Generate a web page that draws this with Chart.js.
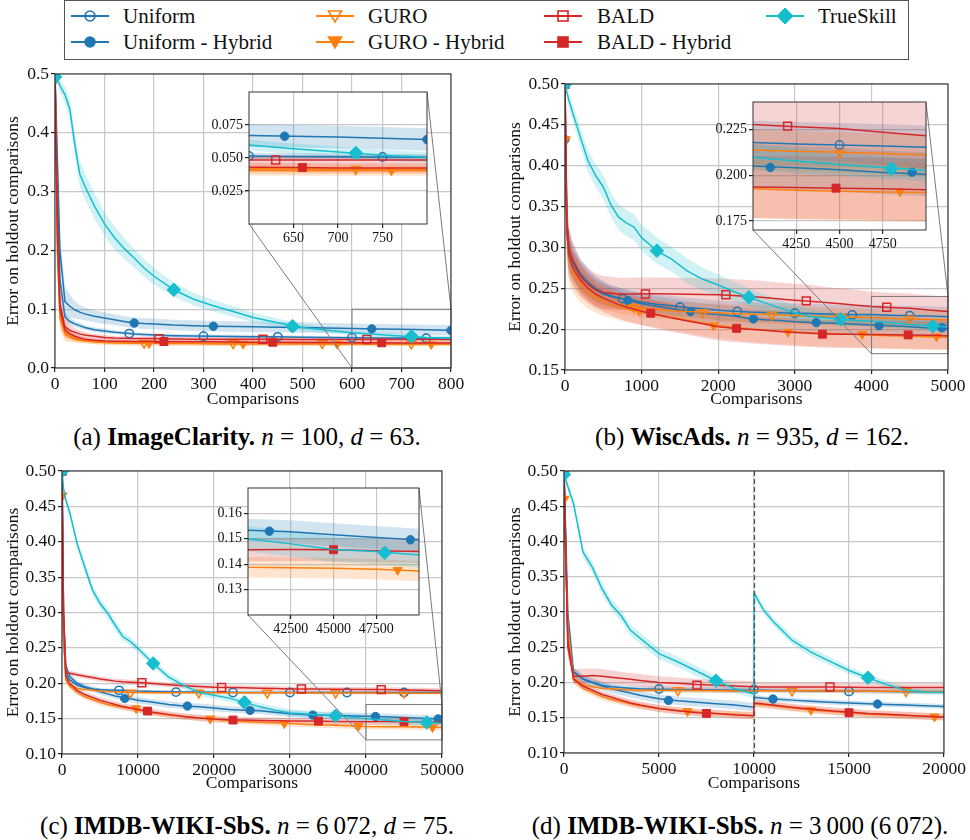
<!DOCTYPE html>
<html>
<head>
<meta charset="utf-8">
<title>Error on holdout comparisons</title>
<script src="https://cdn.jsdelivr.net/npm/chart.js@4.4.1/dist/chart.umd.min.js"></script>
<style>
  html, body { margin: 0; padding: 0; background: #fff; }
  body { position: relative; width: 970px; height: 840px; overflow: hidden; }
  canvas { position: absolute; }
  #legend { position: absolute; left: 64px; top: 0; width: 845px; height: 60px; box-sizing: border-box; border: 1.3px solid #555; }
  .item { position: absolute; font-family: 'Liberation Serif', 'DejaVu Serif', serif; font-size: 21px; color: #111; white-space: nowrap; line-height: 20px; }
  .sw { position: absolute; }
  .cap { position: absolute; font-family: 'Liberation Serif', 'Times New Roman', serif; font-size: 25px; color: #000; white-space: nowrap; transform: translateX(-50%); line-height: 28px; }
</style>
</head>
<body>
<div id="legend"></div>
<div class="cap" style="left:247px;top:423px">(a) <b>ImageClarity.</b> <i>n</i> = 100, <i>d</i> = 63.</div>
<div class="cap" style="left:752px;top:423px">(b) <b>WiscAds.</b> <i>n</i> = 935, <i>d</i> = 162.</div>
<div class="cap" style="left:247px;top:812px">(c) <b>IMDB-WIKI-SbS.</b> <i>n</i> = 6&thinsp;072, <i>d</i> = 75.</div>
<div class="cap" style="left:740px;top:812px">(d) <b>IMDB-WIKI-SbS.</b> <i>n</i> = 3&thinsp;000 (6&thinsp;072).</div>
<script>
// ---- series names (legend order) ----
const SERIES_NAMES = ['Uniform', 'Uniform - Hybrid', 'GURO', 'GURO - Hybrid', 'BALD', 'BALD - Hybrid', 'TrueSkill'];

// ---- (a) ImageClarity ----
const A_X = [0, 5, 10, 20, 30, 40, 50, 60, 80, 100, 120, 140, 160, 180, 200, 240, 280, 320, 360, 400, 450, 500, 550, 600, 650, 700, 750, 800];
const A_UNI = [0.5, 0.3, 0.15, 0.087, 0.079, 0.075, 0.072, 0.069, 0.065, 0.063, 0.061, 0.0595, 0.058, 0.057, 0.056, 0.055, 0.0545, 0.054, 0.0535, 0.053, 0.053, 0.0525, 0.052, 0.0515, 0.0512, 0.051, 0.0508, 0.0505];
const A_UNI_SD = [0, 0.02, 0.015, 0.008, 0.006, 0.005, 0.005, 0.004, 0.004, 0.004, 0.003, 0.003, 0.003, 0.003, 0.003, 0.003, 0.003, 0.003, 0.003, 0.003, 0.0025, 0.0025, 0.0025, 0.0025, 0.0025, 0.0025, 0.0025, 0.0025];
const A_UH = [0.5, 0.35, 0.2, 0.113, 0.105, 0.099, 0.095, 0.092, 0.088, 0.085, 0.082, 0.079, 0.0765, 0.0755, 0.075, 0.073, 0.072, 0.071, 0.0705, 0.07, 0.0695, 0.069, 0.068, 0.067, 0.0665, 0.066, 0.065, 0.064];
const A_UH_SD = [0, 0.02, 0.025, 0.025, 0.02, 0.015, 0.012, 0.011, 0.01, 0.01, 0.009, 0.009, 0.009, 0.009, 0.009, 0.009, 0.009, 0.009, 0.009, 0.009, 0.009, 0.009, 0.0085, 0.0085, 0.0085, 0.0085, 0.0085, 0.0085];
const A_GURO = [0.49, 0.2, 0.09, 0.062, 0.055, 0.051, 0.048, 0.047, 0.045, 0.044, 0.0435, 0.043, 0.043, 0.0425, 0.0425, 0.042, 0.042, 0.042, 0.042, 0.042, 0.042, 0.042, 0.0418, 0.0418, 0.0416, 0.0415, 0.0415, 0.0415];
const A_GURO_SD = [0, 0.03, 0.02, 0.012, 0.008, 0.006, 0.005, 0.004, 0.004, 0.004, 0.0035, 0.0035, 0.0035, 0.0035, 0.0035, 0.0035, 0.0035, 0.0035, 0.0035, 0.0035, 0.0035, 0.0035, 0.0035, 0.0035, 0.0035, 0.0035, 0.0035, 0.0035];
const A_GH = [0.49, 0.2, 0.085, 0.058, 0.052, 0.049, 0.047, 0.046, 0.0445, 0.0435, 0.043, 0.0425, 0.042, 0.042, 0.042, 0.0415, 0.0415, 0.041, 0.041, 0.041, 0.041, 0.041, 0.041, 0.0408, 0.0406, 0.0405, 0.0405, 0.0405];
const A_GH_SD = [0, 0.03, 0.02, 0.012, 0.008, 0.006, 0.005, 0.0045, 0.004, 0.004, 0.004, 0.004, 0.004, 0.004, 0.004, 0.004, 0.004, 0.004, 0.004, 0.004, 0.004, 0.004, 0.004, 0.004, 0.004, 0.004, 0.004, 0.004];
const A_BALD = [0.5, 0.25, 0.11, 0.07, 0.064, 0.061, 0.058, 0.056, 0.054, 0.052, 0.051, 0.0505, 0.05, 0.05, 0.05, 0.0495, 0.049, 0.049, 0.049, 0.0488, 0.0488, 0.0486, 0.0486, 0.0485, 0.0485, 0.0485, 0.0485, 0.0485];
const A_BALD_SD = [0, 0.03, 0.025, 0.015, 0.01, 0.007, 0.006, 0.005, 0.004, 0.004, 0.0035, 0.0035, 0.0035, 0.0035, 0.0035, 0.0035, 0.0035, 0.0035, 0.0035, 0.0035, 0.0035, 0.0035, 0.0035, 0.0035, 0.0035, 0.0035, 0.0035, 0.0035];
const A_BH = [0.5, 0.22, 0.1, 0.065, 0.058, 0.054, 0.051, 0.049, 0.047, 0.046, 0.0455, 0.0455, 0.045, 0.045, 0.045, 0.0448, 0.0445, 0.0445, 0.0442, 0.044, 0.0438, 0.0435, 0.0432, 0.043, 0.0428, 0.0425, 0.0425, 0.0425];
const A_BH_SD = [0, 0.03, 0.02, 0.012, 0.008, 0.006, 0.005, 0.004, 0.004, 0.004, 0.0035, 0.0035, 0.0035, 0.0035, 0.0035, 0.0035, 0.0035, 0.0035, 0.0035, 0.0035, 0.0035, 0.0035, 0.0035, 0.0035, 0.0035, 0.0035, 0.0035, 0.0035];
const A_TS = [0.495, 0.49, 0.48, 0.465, 0.44, 0.38, 0.33, 0.31, 0.275, 0.245, 0.222, 0.203, 0.187, 0.17, 0.156, 0.133, 0.117, 0.106, 0.096, 0.086, 0.077, 0.069, 0.064, 0.0598, 0.057, 0.0545, 0.052, 0.0505];
const A_TS_SD = [0.003, 0.006, 0.01, 0.014, 0.018, 0.02, 0.022, 0.022, 0.022, 0.02, 0.02, 0.018, 0.016, 0.015, 0.014, 0.012, 0.011, 0.01, 0.009, 0.008, 0.007, 0.006, 0.005, 0.004, 0.004, 0.004, 0.004, 0.004];
const A_UNI_MX = [0, 150, 300, 450, 600, 750],  A_UNI_MY = [0.5, 0.0585, 0.054, 0.053, 0.0515, 0.0508];
const A_UH_MX = [0, 160, 320, 480, 640, 800],   A_UH_MY = [0.5, 0.0765, 0.071, 0.069, 0.0665, 0.064];
const A_GURO_MX = [0, 180, 360, 540, 720],      A_GURO_MY = [0.49, 0.0425, 0.042, 0.042, 0.0415];
const A_GH_MX = [0, 190, 380, 570, 760],        A_GH_MY = [0.49, 0.042, 0.041, 0.041, 0.0405];
const A_BALD_MX = [0, 210, 420, 630],           A_BALD_MY = [0.5, 0.05, 0.0488, 0.0485];
const A_BH_MX = [0, 220, 440, 660],             A_BH_MY = [0.5, 0.045, 0.0438, 0.0428];
const A_TS_MX = [0, 240, 480, 720],             A_TS_MY = [0.495, 0.133, 0.071, 0.0538];
const A_XTICKS = ['0', '100', '200', '300', '400', '500', '600', '700', '800'];
const A_YTICKS = ['0.0', '0.1', '0.2', '0.3', '0.4', '0.5'];
const A_ZOOM = [600, 800, 0, 0.1];
const A_IXTICKS = ['650', '700', '750'];
const A_IYTICKS = ['0.025', '0.050', '0.075'];

// ---- (b) WiscAds ----
const B_X = [0, 25, 50, 100, 200, 300, 400, 500, 600, 700, 800, 900, 1000, 1200, 1400, 1600, 1800, 2000, 2200, 2400, 2600, 2800, 3000, 3200, 3400, 3600, 3800, 4000, 4250, 4500, 4750, 5000];
const B_UNI = [0.5, 0.33, 0.3, 0.285, 0.268, 0.258, 0.25, 0.245, 0.241, 0.238, 0.2365, 0.235, 0.233, 0.2305, 0.2285, 0.2265, 0.225, 0.223, 0.222, 0.221, 0.2205, 0.22, 0.2195, 0.219, 0.2185, 0.218, 0.2178, 0.2178, 0.217, 0.2165, 0.216, 0.2152];
const B_UNI_SD = [0, 0.03, 0.025, 0.02, 0.018, 0.016, 0.015, 0.014, 0.013, 0.013, 0.012, 0.012, 0.012, 0.012, 0.012, 0.012, 0.012, 0.012, 0.012, 0.012, 0.012, 0.012, 0.012, 0.012, 0.012, 0.012, 0.012, 0.012, 0.012, 0.012, 0.012, 0.012];
const B_UH = [0.432, 0.33, 0.295, 0.28, 0.265, 0.255, 0.248, 0.243, 0.24, 0.238, 0.236, 0.2335, 0.231, 0.228, 0.225, 0.222, 0.2195, 0.218, 0.216, 0.213, 0.2115, 0.2105, 0.209, 0.208, 0.2075, 0.207, 0.206, 0.205, 0.204, 0.203, 0.2015, 0.2005];
const B_UH_SD = [0, 0.03, 0.025, 0.02, 0.018, 0.016, 0.015, 0.014, 0.013, 0.013, 0.012, 0.012, 0.012, 0.012, 0.012, 0.012, 0.012, 0.012, 0.012, 0.012, 0.012, 0.012, 0.012, 0.012, 0.012, 0.012, 0.012, 0.012, 0.012, 0.012, 0.012, 0.012];
const B_GURO = [0.432, 0.32, 0.29, 0.275, 0.26, 0.25, 0.242, 0.237, 0.234, 0.231, 0.2285, 0.227, 0.2255, 0.224, 0.2225, 0.2215, 0.2207, 0.22, 0.2192, 0.2185, 0.218, 0.2172, 0.2165, 0.216, 0.2155, 0.215, 0.2145, 0.2138, 0.213, 0.2125, 0.2118, 0.2111];
const B_GURO_SD = [0, 0.03, 0.025, 0.02, 0.018, 0.016, 0.014, 0.013, 0.012, 0.012, 0.011, 0.011, 0.011, 0.011, 0.011, 0.011, 0.011, 0.011, 0.011, 0.011, 0.011, 0.011, 0.011, 0.011, 0.011, 0.011, 0.011, 0.011, 0.011, 0.011, 0.011, 0.011];
const B_GH = [0.432, 0.315, 0.285, 0.27, 0.255, 0.245, 0.238, 0.233, 0.23, 0.227, 0.2245, 0.2225, 0.221, 0.218, 0.2145, 0.211, 0.2075, 0.2045, 0.2025, 0.2005, 0.199, 0.1975, 0.1965, 0.1955, 0.1948, 0.194, 0.1935, 0.1925, 0.1918, 0.1912, 0.1908, 0.1905];
const B_GH_SD = [0, 0.03, 0.028, 0.025, 0.022, 0.02, 0.018, 0.017, 0.016, 0.016, 0.016, 0.016, 0.016, 0.016, 0.016, 0.016, 0.016, 0.016, 0.016, 0.016, 0.016, 0.016, 0.016, 0.016, 0.016, 0.016, 0.016, 0.016, 0.016, 0.016, 0.016, 0.016];
const B_BALD = [0.5, 0.33, 0.3, 0.285, 0.265, 0.255, 0.248, 0.245, 0.244, 0.243, 0.243, 0.243, 0.2432, 0.2432, 0.243, 0.2428, 0.2425, 0.242, 0.2412, 0.24, 0.2388, 0.237, 0.2355, 0.2342, 0.2325, 0.231, 0.2292, 0.2277, 0.2265, 0.2255, 0.2235, 0.2215];
const B_BALD_SD = [0, 0.03, 0.025, 0.022, 0.02, 0.02, 0.02, 0.02, 0.02, 0.02, 0.02, 0.02, 0.02, 0.02, 0.02, 0.02, 0.02, 0.02, 0.02, 0.02, 0.02, 0.02, 0.02, 0.02, 0.019, 0.019, 0.019, 0.018, 0.018, 0.018, 0.018, 0.018];
const B_BH = [0.5, 0.32, 0.29, 0.275, 0.26, 0.25, 0.243, 0.238, 0.234, 0.23, 0.227, 0.2245, 0.222, 0.2175, 0.2135, 0.21, 0.2065, 0.203, 0.2012, 0.1998, 0.1985, 0.1972, 0.196, 0.195, 0.1942, 0.1938, 0.1938, 0.1935, 0.1932, 0.1929, 0.1925, 0.192];
const B_BH_SD = [0, 0.03, 0.025, 0.022, 0.02, 0.018, 0.017, 0.017, 0.017, 0.017, 0.017, 0.017, 0.017, 0.017, 0.017, 0.017, 0.017, 0.017, 0.017, 0.017, 0.017, 0.017, 0.017, 0.017, 0.017, 0.017, 0.017, 0.017, 0.017, 0.017, 0.017, 0.017];
const B_TS = [0.5, 0.49, 0.48, 0.465, 0.435, 0.406, 0.388, 0.374, 0.352, 0.337, 0.33, 0.325, 0.312, 0.296, 0.285, 0.271, 0.261, 0.254, 0.246, 0.239, 0.2325, 0.226, 0.22, 0.2155, 0.214, 0.212, 0.2105, 0.2098, 0.2078, 0.2058, 0.2042, 0.2025];
const B_TS_SD = [0.003, 0.006, 0.008, 0.01, 0.012, 0.013, 0.014, 0.015, 0.015, 0.016, 0.016, 0.016, 0.016, 0.016, 0.015, 0.015, 0.014, 0.013, 0.012, 0.011, 0.01, 0.01, 0.009, 0.009, 0.008, 0.008, 0.007, 0.007, 0.007, 0.006, 0.006, 0.006];
const B_UNI_MX = [0, 750, 1500, 2250, 3000, 3750, 4500],  B_UNI_MY = [0.5, 0.2374, 0.2268, 0.2215, 0.2195, 0.2174, 0.2165];
const B_UH_MX = [0, 820, 1640, 2460, 3280, 4100, 4920],   B_UH_MY = [0.432, 0.235, 0.2215, 0.2125, 0.208, 0.2042, 0.2016];
const B_GURO_MX = [0, 900, 1800, 2700, 3600, 4500],       B_GURO_MY = [0.432, 0.2268, 0.2207, 0.2175, 0.215, 0.2122];
const B_GH_MX = [0, 970, 1940, 2910, 3880, 4850],         B_GH_MY = [0.432, 0.2224, 0.2044, 0.1966, 0.1938, 0.191];
const B_BALD_MX = [0, 1050, 2100, 3150, 4200],            B_BALD_MY = [0.5, 0.243, 0.242, 0.2346, 0.2268];
const B_BH_MX = [0, 1120, 2240, 3360, 4480],              B_BH_MY = [0.5, 0.2195, 0.201, 0.1938, 0.1929];
const B_TS_MX = [0, 1200, 2400, 3600, 4800],              B_TS_MY = [0.5, 0.296, 0.239, 0.212, 0.2036];
const B_XTICKS = ['0', '1000', '2000', '3000', '4000', '5000'];
const B_YTICKS = ['0.15', '0.20', '0.25', '0.30', '0.35', '0.40', '0.45', '0.50'];
const B_ZOOM = [4000, 5000, 0.17, 0.24];
const B_IXTICKS = ['4250', '4500', '4750'];
const B_IYTICKS = ['0.175', '0.200', '0.225'];

// ---- (c) IMDB-WIKI-SbS, n = 6072 ----
const C_X = [0, 200, 500, 1000, 2000, 3000, 4000, 5000, 6000, 7000, 8000, 9000, 10000, 12000, 14000, 16000, 18000, 20000, 22000, 24000, 26000, 28000, 30000, 33000, 36000, 40000, 42500, 45000, 47500, 50000];
const C_UNI = [0.5, 0.26, 0.215, 0.205, 0.197, 0.194, 0.192, 0.191, 0.1905, 0.19, 0.19, 0.1895, 0.189, 0.1885, 0.188, 0.1878, 0.1875, 0.1873, 0.1872, 0.187, 0.187, 0.187, 0.187, 0.187, 0.187, 0.187, 0.187, 0.187, 0.187, 0.187];
const C_UNI_SD = [0, 0.01, 0.004, 0.003, 0.002, 0.002, 0.002, 0.002, 0.002, 0.002, 0.002, 0.002, 0.002, 0.002, 0.002, 0.002, 0.002, 0.002, 0.002, 0.002, 0.002, 0.002, 0.002, 0.002, 0.002, 0.002, 0.002, 0.002, 0.002, 0.002];
const C_UH = [0.5, 0.3, 0.225, 0.21, 0.2, 0.195, 0.192, 0.188, 0.185, 0.182, 0.18, 0.178, 0.176, 0.173, 0.17, 0.168, 0.1668, 0.165, 0.163, 0.162, 0.161, 0.159, 0.157, 0.155, 0.1545, 0.1534, 0.1528, 0.1516, 0.1505, 0.1495];
const C_UH_SD = [0, 0.01, 0.005, 0.004, 0.004, 0.004, 0.004, 0.004, 0.004, 0.004, 0.0045, 0.0045, 0.0045, 0.0045, 0.0045, 0.0045, 0.0045, 0.0045, 0.0045, 0.0045, 0.0045, 0.0045, 0.0045, 0.0045, 0.0045, 0.0045, 0.0045, 0.0045, 0.0045, 0.0045];
const C_GURO = [0.465, 0.27, 0.205, 0.197, 0.193, 0.191, 0.19, 0.189, 0.1885, 0.188, 0.1875, 0.187, 0.1868, 0.1866, 0.1866, 0.1866, 0.1866, 0.1865, 0.1865, 0.1865, 0.1865, 0.1864, 0.1864, 0.1863, 0.1862, 0.1862, 0.1861, 0.186, 0.186, 0.186];
const C_GURO_SD = [0, 0.01, 0.004, 0.003, 0.002, 0.002, 0.002, 0.002, 0.002, 0.002, 0.002, 0.002, 0.002, 0.002, 0.002, 0.002, 0.002, 0.002, 0.002, 0.002, 0.002, 0.002, 0.002, 0.002, 0.002, 0.002, 0.002, 0.002, 0.002, 0.002];
const C_GH = [0.465, 0.29, 0.205, 0.196, 0.187, 0.181, 0.177, 0.173, 0.17, 0.168, 0.166, 0.1645, 0.162, 0.158, 0.155, 0.153, 0.151, 0.149, 0.147, 0.146, 0.145, 0.144, 0.143, 0.1415, 0.1405, 0.1388, 0.1386, 0.1384, 0.138, 0.1373];
const C_GH_SD = [0, 0.01, 0.005, 0.004, 0.004, 0.004, 0.004, 0.004, 0.004, 0.004, 0.004, 0.004, 0.004, 0.004, 0.004, 0.004, 0.004, 0.004, 0.004, 0.004, 0.004, 0.004, 0.004, 0.004, 0.004, 0.004, 0.004, 0.004, 0.004, 0.004];
const C_BALD = [0.5, 0.3, 0.215, 0.214, 0.212, 0.21, 0.208, 0.206, 0.2045, 0.203, 0.202, 0.2015, 0.201, 0.1995, 0.198, 0.1965, 0.1955, 0.1945, 0.194, 0.1935, 0.193, 0.1925, 0.192, 0.1918, 0.1915, 0.1912, 0.191, 0.1905, 0.19, 0.1895];
const C_BALD_SD = [0, 0.01, 0.004, 0.0035, 0.0035, 0.0035, 0.0035, 0.0035, 0.0035, 0.0035, 0.0035, 0.0035, 0.0035, 0.0035, 0.0035, 0.0035, 0.0035, 0.0035, 0.0035, 0.0035, 0.0035, 0.0035, 0.0035, 0.0035, 0.0035, 0.0035, 0.0035, 0.0035, 0.0035, 0.0035];
const C_BH = [0.5, 0.3, 0.21, 0.2, 0.19, 0.184, 0.18, 0.176, 0.173, 0.17, 0.167, 0.165, 0.163, 0.159, 0.156, 0.153, 0.151, 0.1495, 0.1485, 0.148, 0.1475, 0.147, 0.1468, 0.1465, 0.146, 0.1457, 0.1458, 0.1457, 0.1453, 0.145];
const C_BH_SD = [0, 0.01, 0.005, 0.0045, 0.0045, 0.0045, 0.0045, 0.0045, 0.0045, 0.0045, 0.0045, 0.0045, 0.0045, 0.0045, 0.0045, 0.0045, 0.0045, 0.0045, 0.0045, 0.0045, 0.0045, 0.0045, 0.0045, 0.0045, 0.0045, 0.0045, 0.0045, 0.0045, 0.0045, 0.0045];
const C_TS = [0.5, 0.475, 0.459, 0.442, 0.397, 0.364, 0.332, 0.313, 0.299, 0.282, 0.266, 0.259, 0.249, 0.228, 0.209, 0.197, 0.187, 0.183, 0.179, 0.173, 0.167, 0.162, 0.158, 0.156, 0.154, 0.15, 0.148, 0.1458, 0.145, 0.1436];
const C_TS_SD = [0.003, 0.006, 0.007, 0.007, 0.007, 0.007, 0.007, 0.007, 0.007, 0.007, 0.006, 0.006, 0.006, 0.005, 0.005, 0.005, 0.005, 0.005, 0.005, 0.005, 0.005, 0.005, 0.005, 0.005, 0.005, 0.005, 0.005, 0.005, 0.005, 0.005];
const C_UNI_MX = [0, 7500, 15000, 22500, 30000, 37500, 45000],   C_UNI_MY = [0.5, 0.19, 0.1875, 0.187, 0.187, 0.187, 0.187];
const C_UH_MX = [0, 8250, 16500, 24750, 33000, 41250, 49500],    C_UH_MY = [0.5, 0.1786, 0.1678, 0.1616, 0.155, 0.153, 0.1496];
const C_GURO_MX = [0, 9000, 18000, 27000, 36000, 45000],         C_GURO_MY = [0.465, 0.1866, 0.1866, 0.1866, 0.1866, 0.1866];
const C_GH_MX = [0, 9750, 19500, 29250, 39000, 48750],           C_GH_MY = [0.465, 0.1645, 0.1499, 0.1433, 0.1395, 0.1377];
const C_BALD_MX = [0, 10500, 21000, 31500, 42000],               C_BALD_MY = [0.5, 0.2007, 0.1941, 0.1918, 0.191];
const C_BH_MX = [0, 11250, 22500, 33750, 45000],                 C_BH_MY = [0.5, 0.1607, 0.148, 0.1465, 0.1457];
const C_TS_MX = [0, 12000, 24000, 36000, 48000],                 C_TS_MY = [0.5, 0.228, 0.173, 0.154, 0.1445];
const C_XTICKS = ['0', '10000', '20000', '30000', '40000', '50000'];
const C_YTICKS = ['0.10', '0.15', '0.20', '0.25', '0.30', '0.35', '0.40', '0.45', '0.50'];
const C_ZOOM = [40000, 50000, 0.12, 0.17];
const C_IXTICKS = ['42500', '45000', '47500'];
const C_IYTICKS = ['0.13', '0.14', '0.15', '0.16'];

// ---- (d) IMDB-WIKI-SbS, n = 3000 (6072) ----
const D_X = [0, 200, 500, 1000, 1500, 2000, 2500, 3000, 3500, 4000, 5000, 6000, 7000, 8000, 9000, 9990, 10000, 10500, 11000, 12000, 13000, 14000, 15000, 16000, 17000, 18000, 19000, 20000];
const D_UNI = [0.5, 0.27, 0.215, 0.205, 0.2, 0.196, 0.194, 0.193, 0.192, 0.191, 0.1905, 0.19, 0.1898, 0.1895, 0.189, 0.189, 0.189, 0.189, 0.1888, 0.1885, 0.188, 0.188, 0.1875, 0.1875, 0.1872, 0.187, 0.187, 0.187];
const D_UNI_SD = [0, 0.01, 0.006, 0.005, 0.005, 0.004, 0.004, 0.004, 0.004, 0.004, 0.004, 0.004, 0.004, 0.004, 0.004, 0.004, 0.003, 0.003, 0.003, 0.003, 0.003, 0.003, 0.003, 0.003, 0.003, 0.003, 0.003, 0.003];
const D_UH = [0.5, 0.3, 0.215, 0.205, 0.2, 0.195, 0.191, 0.188, 0.185, 0.182, 0.177, 0.174, 0.172, 0.17, 0.168, 0.165, 0.179, 0.1775, 0.1765, 0.175, 0.1735, 0.172, 0.171, 0.1698, 0.1688, 0.168, 0.167, 0.166];
const D_UH_SD = [0, 0.01, 0.006, 0.006, 0.006, 0.006, 0.006, 0.006, 0.006, 0.006, 0.006, 0.006, 0.006, 0.006, 0.006, 0.006, 0.0035, 0.0035, 0.0035, 0.0035, 0.0035, 0.0035, 0.0035, 0.0035, 0.0035, 0.0035, 0.0035, 0.0035];
const D_GURO = [0.46, 0.27, 0.205, 0.197, 0.194, 0.192, 0.191, 0.19, 0.1895, 0.189, 0.189, 0.1888, 0.1885, 0.1882, 0.188, 0.188, 0.1882, 0.1883, 0.1883, 0.1883, 0.1882, 0.188, 0.1878, 0.1877, 0.1875, 0.1874, 0.1872, 0.187];
const D_GURO_SD = [0, 0.01, 0.004, 0.003, 0.003, 0.003, 0.003, 0.003, 0.003, 0.003, 0.003, 0.003, 0.003, 0.003, 0.003, 0.003, 0.003, 0.003, 0.003, 0.003, 0.003, 0.003, 0.003, 0.003, 0.003, 0.003, 0.003, 0.003];
const D_GH = [0.46, 0.28, 0.205, 0.192, 0.186, 0.18, 0.176, 0.173, 0.17, 0.167, 0.163, 0.16, 0.158, 0.156, 0.155, 0.153, 0.17, 0.1685, 0.167, 0.164, 0.161, 0.159, 0.157, 0.155, 0.154, 0.153, 0.152, 0.151];
const D_GH_SD = [0, 0.01, 0.006, 0.005, 0.005, 0.005, 0.005, 0.005, 0.005, 0.005, 0.005, 0.005, 0.005, 0.005, 0.005, 0.005, 0.005, 0.005, 0.005, 0.005, 0.005, 0.005, 0.005, 0.005, 0.005, 0.005, 0.005, 0.005];
const D_BALD = [0.5, 0.25, 0.209, 0.209, 0.21, 0.209, 0.2075, 0.206, 0.2045, 0.203, 0.2, 0.199, 0.197, 0.196, 0.195, 0.194, 0.194, 0.1935, 0.1935, 0.1935, 0.1935, 0.1935, 0.1932, 0.193, 0.193, 0.193, 0.193, 0.193];
const D_BALD_SD = [0, 0.015, 0.01, 0.01, 0.01, 0.01, 0.01, 0.009, 0.009, 0.009, 0.009, 0.008, 0.008, 0.008, 0.008, 0.008, 0.006, 0.006, 0.006, 0.006, 0.006, 0.006, 0.006, 0.006, 0.006, 0.006, 0.006, 0.006];
const D_BH = [0.5, 0.26, 0.205, 0.195, 0.189, 0.183, 0.179, 0.175, 0.171, 0.168, 0.163, 0.16, 0.157, 0.156, 0.154, 0.153, 0.171, 0.1695, 0.168, 0.165, 0.1625, 0.16, 0.158, 0.156, 0.155, 0.1535, 0.152, 0.151];
const D_BH_SD = [0, 0.01, 0.006, 0.005, 0.005, 0.005, 0.005, 0.005, 0.005, 0.005, 0.005, 0.005, 0.005, 0.005, 0.005, 0.005, 0.005, 0.005, 0.005, 0.005, 0.005, 0.005, 0.005, 0.005, 0.005, 0.005, 0.005, 0.005];
const D_TS = [0.495, 0.478, 0.454, 0.385, 0.363, 0.333, 0.31, 0.295, 0.274, 0.263, 0.241, 0.229, 0.216, 0.2025, 0.191, 0.1836, 0.3267, 0.303, 0.287, 0.26, 0.243, 0.23, 0.217, 0.2067, 0.197, 0.189, 0.1865, 0.186];
const D_TS_SD = [0.003, 0.006, 0.007, 0.008, 0.008, 0.008, 0.008, 0.008, 0.008, 0.008, 0.008, 0.007, 0.007, 0.007, 0.006, 0.006, 0.005, 0.006, 0.006, 0.006, 0.006, 0.006, 0.005, 0.005, 0.005, 0.005, 0.004, 0.004];
const D_UNI_MX = [0, 5000, 10000, 15000],  D_UNI_MY = [0.5, 0.1907, 0.19, 0.1874];
const D_UH_MX = [0, 5500, 11000, 16500],   D_UH_MY = [0.5, 0.1746, 0.1765, 0.1694];
const D_GURO_MX = [0, 6000, 12000, 18000], D_GURO_MY = [0.46, 0.1888, 0.1883, 0.1874];
const D_GH_MX = [0, 6500, 13000, 19500],   D_GH_MY = [0.46, 0.159, 0.161, 0.1515];
const D_BALD_MX = [0, 7000, 14000],        D_BALD_MY = [0.5, 0.1963, 0.1935];
const D_BH_MX = [0, 7500, 15000],          D_BH_MY = [0.5, 0.1562, 0.1571];
const D_TS_MX = [0, 8000, 16000],          D_TS_MY = [0.495, 0.2025, 0.2067];
const D_XTICKS = ['0', '5000', '10000', '15000', '20000'];
const D_YTICKS = ['0.10', '0.15', '0.20', '0.25', '0.30', '0.35', '0.40', '0.45', '0.50'];
const D_SWITCH = 10000;

// ---- styles ----
const BLUE = '#1f77b4', ORANGE = '#ff7f0e', RED = '#d62728', CYAN = '#17becf';
const STYLES = [
  { color: BLUE, shape: 'circle', open: true },
  { color: BLUE, shape: 'circle', open: false },
  { color: ORANGE, shape: 'triangle', open: true },
  { color: ORANGE, shape: 'triangle', open: false },
  { color: RED, shape: 'rect', open: true },
  { color: RED, shape: 'rect', open: false },
  { color: CYAN, shape: 'rectRot', open: false }
];
const RADIUS = { circle: 4.2, triangle: 5.2, rect: 5.6, rectRot: 6.8 };

Chart.defaults.font.family = "'Liberation Serif', 'DejaVu Serif', serif";
Chart.defaults.color = '#111';

function rgba(hex, a) {
  const n = parseInt(hex.slice(1), 16);
  return 'rgba(' + (n >> 16) + ',' + ((n >> 8) & 255) + ',' + (n & 255) + ',' + a + ')';
}

function buildDatasets(P) {
  const ds = [];
  STYLES.forEach((s, k) => {
    const ys = P.y[k], sd = P.sd[k];
    ds.push({ data: P.x.map((x, i) => ({ x, y: ys[i] + sd[i] })), borderWidth: 0, borderColor: 'rgba(0,0,0,0)',
      pointRadius: 0, fill: '+1', backgroundColor: rgba(s.color, 0.2), order: 300 - k });
    ds.push({ data: P.x.map((x, i) => ({ x, y: ys[i] - sd[i] })), borderWidth: 0, borderColor: 'rgba(0,0,0,0)',
      pointRadius: 0, fill: false, order: 300 - k });
  });
  STYLES.forEach((s, k) => {
    const ys = P.y[k];
    ds.push({ data: P.x.map((x, i) => ({ x, y: ys[i] })), borderColor: s.color, borderWidth: 1.5,
      pointRadius: 0, fill: false, order: 100 - 2 * k });
    ds.push({ data: P.mx[k].map((x, i) => ({ x, y: P.my[k][i] })), showLine: false, borderWidth: 0,
      pointStyle: s.shape, pointRotation: s.shape === 'triangle' ? 180 : 0, pointRadius: RADIUS[s.shape],
      pointBackgroundColor: s.open ? 'rgba(0,0,0,0)' : s.color, pointBorderColor: s.color,
      pointBorderWidth: s.open ? 1.5 : 1, fill: false, order: 99 - 2 * k });
  });
  return ds;
}

function axis(dir, range, labels, size, title, fs) {
  const vals = labels.map(Number);
  return {
    type: 'linear', min: range[0], max: range[1],
    afterBuildTicks: s => { s.ticks = vals.map(v => ({ value: v })); },
    afterFit: s => {
      if (dir === 'x') { s.height = size; s.paddingLeft = 0; s.paddingRight = 0; }
      else { s.width = size; s.paddingTop = 0; s.paddingBottom = 0; }
    },
    ticks: { callback: (v, i) => labels[i], font: { size: fs }, color: '#111', padding: 2, maxRotation: 0, autoSkip: false },
    grid: { color: '#c8c8c8', lineWidth: 1.2, tickLength: 4, tickColor: '#222', drawTicks: true },
    border: { display: false },
    title: title ? { display: true, text: title, font: { size: fs }, color: '#111', padding: { top: 2.5, bottom: 2.5 } } : { display: false }
  };
}

function makeDeco(cfg) {
  return {
    id: 'deco',
    beforeDraw(chart) {
      if (!cfg.white) return;
      const a = chart.chartArea, ctx = chart.ctx;
      ctx.save(); ctx.fillStyle = '#fff';
      ctx.fillRect(a.left, a.top, a.right - a.left, a.bottom - a.top);
      ctx.restore();
    },
    afterDatasetsDraw(chart) {
      const ctx = chart.ctx, a = chart.chartArea, sx = chart.scales.x, sy = chart.scales.y;
      ctx.save();
      if (cfg.vline !== undefined) {
        const px = Math.round(sx.getPixelForValue(cfg.vline)) + 0.5;
        ctx.setLineDash([5, 3]); ctx.strokeStyle = '#555'; ctx.lineWidth = 1.3;
        ctx.beginPath(); ctx.moveTo(px, a.top); ctx.lineTo(px, a.bottom); ctx.stroke();
        ctx.setLineDash([]);
      }
      if (cfg.zoom) {
        const z = cfg.zoom;
        const L = sx.getPixelForValue(z[0]), R = sx.getPixelForValue(z[1]);
        const B = sy.getPixelForValue(z[2]), T = sy.getPixelForValue(z[3]);
        ctx.strokeStyle = '#7a7a7a'; ctx.lineWidth = 1;
        ctx.strokeRect(L, T, R - L, B - T);
        const r = cfg.inset;
        ctx.beginPath(); ctx.moveTo(L, B); ctx.lineTo(r[0], r[3]);
        ctx.moveTo(R, T); ctx.lineTo(r[2], r[1]); ctx.stroke();
      }
      ctx.strokeStyle = cfg.frame; ctx.lineWidth = 1;
      ctx.strokeRect(a.left, a.top, a.right - a.left, a.bottom - a.top);
      ctx.restore();
    }
  };
}

function addCanvas(left, top, w, h) {
  const c = document.createElement('canvas');
  c.width = w; c.height = h;
  c.style.left = left + 'px'; c.style.top = top + 'px';
  c.style.width = w + 'px'; c.style.height = h + 'px';
  document.body.appendChild(c);
  return c;
}

function drawChart(canvas, P, o) {
  return new Chart(canvas, {
    type: 'line',
    data: { datasets: buildDatasets(P) },
    options: {
      responsive: false, animation: false, events: [],
      layout: { padding: o.pad, autoPadding: false },
      plugins: { legend: { display: false }, tooltip: { enabled: false } },
      scales: {
        x: axis('x', o.xr, o.xt, o.xH, o.xTitle, o.fs),
        y: axis('y', o.yr, o.yt, o.yW, o.yTitle, o.fs)
      }
    },
    plugins: [makeDeco(o.deco)]
  });
}

const PANELS = [
  { P: { x: A_X, y: [A_UNI, A_UH, A_GURO, A_GH, A_BALD, A_BH, A_TS], sd: [A_UNI_SD, A_UH_SD, A_GURO_SD, A_GH_SD, A_BALD_SD, A_BH_SD, A_TS_SD],
         mx: [A_UNI_MX, A_UH_MX, A_GURO_MX, A_GH_MX, A_BALD_MX, A_BH_MX, A_TS_MX], my: [A_UNI_MY, A_UH_MY, A_GURO_MY, A_GH_MY, A_BALD_MY, A_BH_MY, A_TS_MY] },
    box: [0, 62, 480, 350], pad: { left: 0, top: 12, right: 29, bottom: 0 }, yW: 55, xH: 44,
    xr: [0, 800], yr: [0, 0.5], xt: A_XTICKS, yt: A_YTICKS,
    zoom: A_ZOOM, inset: [249, 92, 427, 224], ixt: A_IXTICKS, iyt: A_IYTICKS },
  { P: { x: B_X, y: [B_UNI, B_UH, B_GURO, B_GH, B_BALD, B_BH, B_TS], sd: [B_UNI_SD, B_UH_SD, B_GURO_SD, B_GH_SD, B_BALD_SD, B_BH_SD, B_TS_SD],
         mx: [B_UNI_MX, B_UH_MX, B_GURO_MX, B_GH_MX, B_BALD_MX, B_BH_MX, B_TS_MX], my: [B_UNI_MY, B_UH_MY, B_GURO_MY, B_GH_MY, B_BALD_MY, B_BH_MY, B_TS_MY] },
    box: [480, 62, 490, 350], pad: { left: 22, top: 22, right: 22, bottom: 0 }, yW: 63, xH: 42,
    xr: [0, 5000], yr: [0.15, 0.5], xt: B_XTICKS, yt: B_YTICKS,
    zoom: B_ZOOM, inset: [753, 102, 926, 230], ixt: B_IXTICKS, iyt: B_IYTICKS },
  { P: { x: C_X, y: [C_UNI, C_UH, C_GURO, C_GH, C_BALD, C_BH, C_TS], sd: [C_UNI_SD, C_UH_SD, C_GURO_SD, C_GH_SD, C_BALD_SD, C_BH_SD, C_TS_SD],
         mx: [C_UNI_MX, C_UH_MX, C_GURO_MX, C_GH_MX, C_BALD_MX, C_BH_MX, C_TS_MX], my: [C_UNI_MY, C_UH_MY, C_GURO_MY, C_GH_MY, C_BALD_MY, C_BH_MY, C_TS_MY] },
    box: [0, 455, 480, 341], pad: { left: 0, top: 16, right: 38, bottom: 0 }, yW: 62, xH: 42,
    xr: [0, 50000], yr: [0.1, 0.5], xt: C_XTICKS, yt: C_YTICKS,
    zoom: C_ZOOM, inset: [248, 488, 419, 615], ixt: C_IXTICKS, iyt: C_IYTICKS },
  { P: { x: D_X, y: [D_UNI, D_UH, D_GURO, D_GH, D_BALD, D_BH, D_TS], sd: [D_UNI_SD, D_UH_SD, D_GURO_SD, D_GH_SD, D_BALD_SD, D_BH_SD, D_TS_SD],
         mx: [D_UNI_MX, D_UH_MX, D_GURO_MX, D_GH_MX, D_BALD_MX, D_BH_MX, D_TS_MX], my: [D_UNI_MY, D_UH_MY, D_GURO_MY, D_GH_MY, D_BALD_MY, D_BH_MY, D_TS_MY] },
    box: [480, 455, 490, 341], pad: { left: 22, top: 16, right: 26, bottom: 0 }, yW: 62, xH: 43,
    xr: [0, 20000], yr: [0.1, 0.5], xt: D_XTICKS, yt: D_YTICKS, vline: D_SWITCH }
];

PANELS.forEach(pn => {
  const [bl, bt, bw, bh] = pn.box;
  const deco = { frame: '#222' };
  if (pn.zoom) { deco.zoom = pn.zoom; deco.inset = [pn.inset[0] - bl, pn.inset[1] - bt, pn.inset[2] - bl, pn.inset[3] - bt]; }
  if (pn.vline !== undefined) deco.vline = pn.vline;
  drawChart(addCanvas(bl, bt, bw, bh), pn.P, {
    pad: pn.pad, xr: pn.xr, yr: pn.yr, xt: pn.xt, yt: pn.yt, xH: pn.xH, yW: pn.yW, fs: 17.5,
    xTitle: 'Comparisons', yTitle: 'Error on holdout comparisons', deco
  });
});

// insets drawn afterwards so they sit on top of the main panels
PANELS.forEach(pn => {
  if (!pn.zoom) return;
  const [l, t, r, b] = pn.inset, m = { l: 50, t: 6, r: 8, b: 22 };
  drawChart(addCanvas(l - m.l, t - m.t, r - l + m.l + m.r, b - t + m.t + m.b), pn.P, {
    pad: { left: 0, top: m.t, right: m.r, bottom: 0 }, xr: [pn.zoom[0], pn.zoom[1]], yr: [pn.zoom[2], pn.zoom[3]],
    xt: pn.ixt, yt: pn.iyt, xH: m.b, yW: m.l, fs: 14, deco: { frame: '#333', white: true }
  });
});

// ---- legend ----
const LEG_LINE_X = [71, 316, 544, 766], LEG_TEXT_X = [123, 368, 597, 818], LEG_ROW_Y = [16, 42];
function swatch(s) {
  const c = s.color, f = s.open ? 'none' : c;
  let m = '';
  if (s.shape === 'circle') m = '<circle cx="19" cy="10" r="5" fill="' + f + '" stroke="' + c + '" stroke-width="1.6"/>';
  else if (s.shape === 'triangle') m = '<polygon points="12.5,5 25.5,5 19,16" fill="' + f + '" stroke="' + c + '" stroke-width="1.6"/>';
  else if (s.shape === 'rect') m = '<rect x="14" y="5" width="10" height="10" fill="' + f + '" stroke="' + c + '" stroke-width="1.6"/>';
  else m = '<polygon points="19,2 27,10 19,18 11,10" fill="' + f + '" stroke="' + c + '" stroke-width="1"/>';
  return '<svg width="38" height="20" viewBox="0 0 38 20"><line x1="0" y1="10" x2="38" y2="10" stroke="' + c + '" stroke-width="1.8"/>' + m + '</svg>';
}
SERIES_NAMES.forEach((name, k) => {
  const col = Math.floor(k / 2), row = k % 2;
  const sw = document.createElement('div');
  sw.className = 'sw';
  sw.style.left = LEG_LINE_X[col] + 'px'; sw.style.top = (LEG_ROW_Y[row] - 10) + 'px';
  sw.innerHTML = swatch(STYLES[k]);
  document.body.appendChild(sw);
  const tx = document.createElement('div');
  tx.className = 'item';
  tx.style.left = LEG_TEXT_X[col] + 'px'; tx.style.top = (LEG_ROW_Y[row] - 10) + 'px';
  tx.textContent = name;
  document.body.appendChild(tx);
});
</script>
</body>
</html>
